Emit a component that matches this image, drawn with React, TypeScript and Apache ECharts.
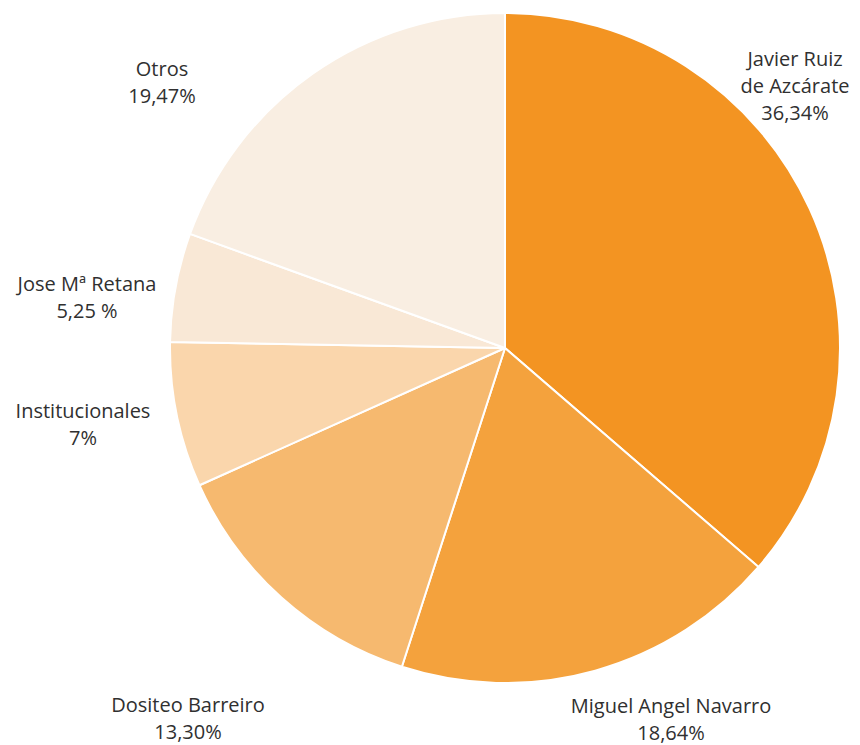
import React, { useEffect, useRef } from "react";
import * as echarts from "echarts";

const names = [
  "Javier Ruiz\nde Azcárate",
  "Miguel Angel Navarro",
  "Dositeo Barreiro",
  "Institucionales",
  "Jose Mª Retana",
  "Otros",
];
const values = [36.34, 18.64, 13.3, 7, 5.25, 19.47];
const pctLabels = ["36,34%", "18,64%", "13,30%", "7%", "5,25 %", "19,47%"];
const colors = ["#F39422", "#F4A23D", "#F6B96F", "#FAD6AC", "#F9E8D6", "#F9EEE2"];
const labelPos: [number, number][] = [
  [795, 85],
  [671, 719],
  [188, 718],
  [83, 424],
  [87, 297],
  [162, 82],
];

export default function App() {
  const ref = useRef<HTMLDivElement>(null);
  useEffect(() => {
    if (!ref.current) return;
    const chart = echarts.init(ref.current, undefined, { renderer: "svg" });
    chart.setOption({
      animation: false,
      backgroundColor: "#ffffff",
      series: [
        {
          type: "pie",
          center: [505, 348],
          radius: 335,
          startAngle: 90,
          clockwise: true,
          data: names.map((n, i) => ({
            name: n,
            value: values[i],
            itemStyle: { color: colors[i] },
          })),
          itemStyle: { borderColor: "#ffffff", borderWidth: 2 },
          label: {
            show: true,
            position: "outside",
            formatter: (p: any) => p.name + "\n" + pctLabels[p.dataIndex],
            fontFamily: "Open Sans",
            fontSize: 20,
            lineHeight: 27,
            color: "#303030",
            align: "center",
            overflow: "none",
            width: 260,
          },
          labelLine: { show: false },
          labelLayout: (p: any) => ({
            x: labelPos[p.dataIndex][0],
            y: labelPos[p.dataIndex][1],
            align: "center",
            verticalAlign: "middle",
          }),
          emphasis: { disabled: true },
        },
      ],
    });
    return () => chart.dispose();
  }, []);
  return (
    <div
      ref={ref}
      style={{ position: "fixed", left: 0, top: 0, width: 860, height: 745 }}
    />
  );
}
